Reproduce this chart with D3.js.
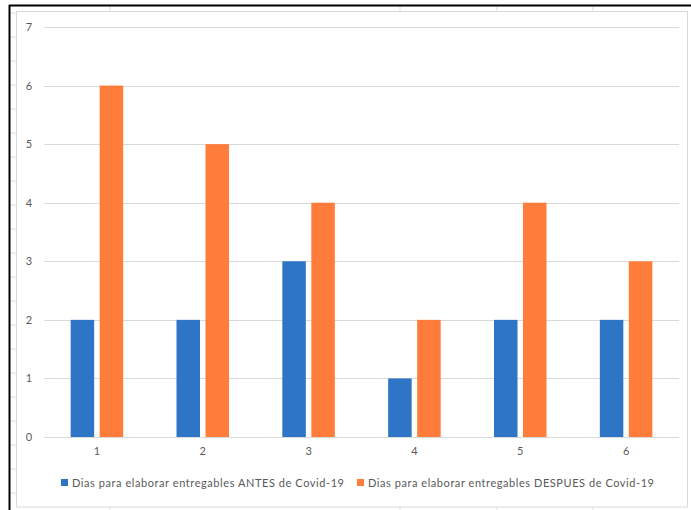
<!DOCTYPE html>
<html>
<head>
<meta charset="utf-8">
<script src="https://cdn.jsdelivr.net/npm/d3@7"></script>
<style>
  html, body { margin: 0; padding: 0; background: #ffffff; }
  svg { display: block; }
  text { font-family: Lato, "Open Sans", sans-serif; fill: #595959; }
</style>
</head>
<body>
<svg id="chart" width="691" height="510"></svg>
<script>
// Chart data
const categories = ["1", "2", "3", "4", "5", "6"];
const antes = [2, 2, 3, 1, 2, 2];
const despues = [6, 5, 4, 2, 4, 3];
const yTicks = [0, 1, 2, 3, 4, 5, 6, 7];
const seriesNames = [
  "Dias para elaborar entregables ANTES de Covid-19",
  "Dias para elaborar entregables DESPUES de Covid-19"
];
const colors = ["#2E75C6", "#FF7C3B"];

const svg = d3.select("#chart");

// Spreadsheet backdrop: cell lines and the outer frame
const sheet = svg.append("g");
d3.range(13, 510, 24).forEach(y => {
  sheet.append("line").attr("x1", 10).attr("x2", 16).attr("y1", y).attr("y2", y)
    .attr("stroke", "#d9d9d9").attr("stroke-width", 1);
});
[110, 400, 497, 593].forEach(x => {
  sheet.append("line").attr("x1", x).attr("x2", x).attr("y1", 5).attr("y2", 11)
    .attr("stroke", "#d9d9d9");
  sheet.append("line").attr("x1", x).attr("x2", x).attr("y1", 507).attr("y2", 510)
    .attr("stroke", "#d9d9d9");
});
// chart area border
sheet.append("rect").attr("x", 16.5).attr("y", 11.5).attr("width", 671).attr("height", 495.5)
  .attr("fill", "#ffffff").attr("stroke", "#d9d9d9").attr("stroke-width", 1);
// black frame on top and left
sheet.append("line").attr("x1", 9).attr("x2", 691).attr("y1", 5.5).attr("y2", 5.5)
  .attr("stroke", "#000").attr("stroke-width", 2);
sheet.append("line").attr("x1", 9.5).attr("x2", 9.5).attr("y1", 5).attr("y2", 510)
  .attr("stroke", "#000").attr("stroke-width", 2);

// Plot area
const plot = { left: 44, right: 679, top: 27, bottom: 437 };

const x0 = d3.scaleBand().domain(categories).range([plot.left, plot.right]).paddingInner(0).paddingOuter(0);
const y = d3.scaleLinear().domain([0, 7]).range([plot.bottom, plot.top]);

// Gridlines
svg.append("g").selectAll("line").data(yTicks).join("line")
  .attr("x1", plot.left).attr("x2", plot.right)
  .attr("y1", d => Math.round(y(d)) + 0.5).attr("y2", d => Math.round(y(d)) + 0.5)
  .attr("stroke", "#d9d9d9").attr("stroke-width", 1);

// Y axis labels
const yAxis = d3.axisLeft(y).tickValues(yTicks).tickSize(0).tickPadding(0).tickFormat(d3.format("d"));
const yg = svg.append("g").attr("transform", `translate(33,0)`).call(yAxis);
yg.select(".domain").remove();
yg.selectAll("text").attr("text-anchor", "middle").attr("dx", -4)
  .style("font-size", "11px").style("fill", "#595959").style("font-family", "Lato, sans-serif");

// X axis labels
const xAxis = d3.axisBottom(x0).tickSize(0).tickPadding(0);
const xg = svg.append("g").attr("transform", `translate(0,${plot.bottom + 10})`).call(xAxis);
xg.select(".domain").remove();
xg.selectAll("text").style("font-size", "11px").style("fill", "#595959").style("font-family", "Lato, sans-serif");

// Bars
const barW = 23.5, gap = 5.5;
const series = [antes, despues];
series.forEach((vals, si) => {
  svg.append("g").selectAll("rect").data(vals).join("rect")
    .attr("x", (d, i) => x0(categories[i]) + x0.bandwidth() / 2 + (si === 0 ? -gap / 2 - barW : gap / 2))
    .attr("y", d => y(d))
    .attr("width", barW)
    .attr("height", d => y(0) - y(d))
    .attr("fill", colors[si]);
});

// Legend
const legendPos = [61, 357];
const legendW = [272, 286];
const lg = svg.append("g");
seriesNames.forEach((name, i) => {
  lg.append("rect").attr("x", legendPos[i]).attr("y", 479).attr("width", 7).attr("height", 7).attr("fill", colors[i]);
  lg.append("text").attr("x", legendPos[i] + 11).attr("y", 487)
    .attr("textLength", legendW[i]).attr("lengthAdjust", "spacing")
    .style("font-size", "11px").text(name);
});
</script>
</body>
</html>
